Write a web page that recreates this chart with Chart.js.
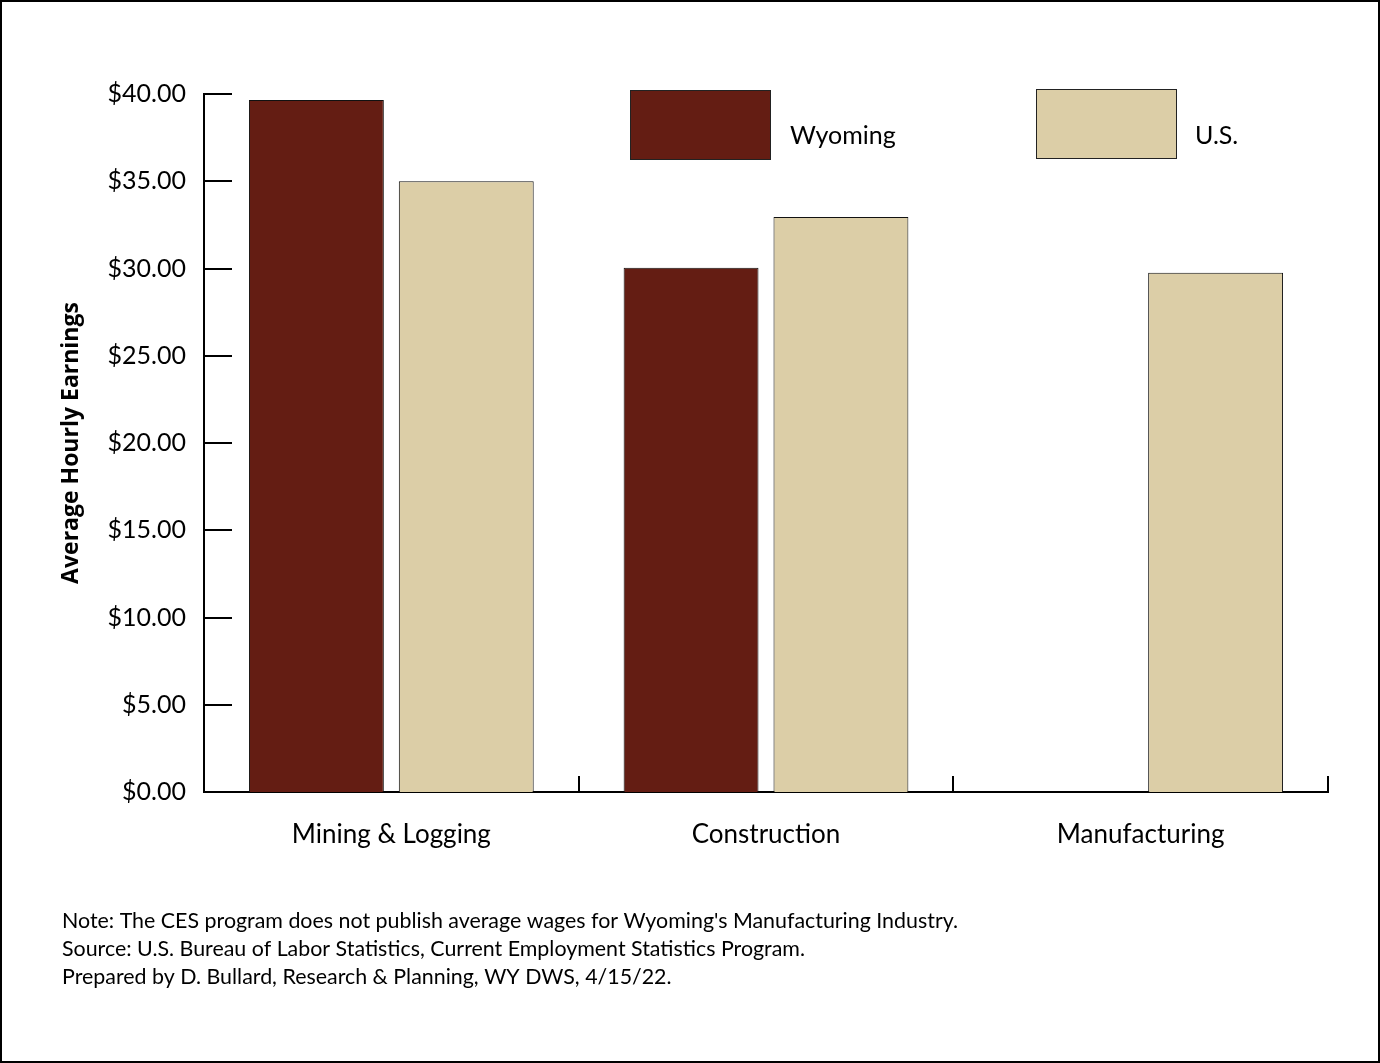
<!DOCTYPE html>
<html>
<head>
<meta charset="utf-8">
<script src="https://cdn.jsdelivr.net/npm/chart.js@4.4.1/dist/chart.umd.min.js"></script>
<style>
  html, body { margin: 0; padding: 0; background: #fff; }
  #wrap { width: 1380px; height: 1063px; position: relative; }
</style>
</head>
<body>
<div id="wrap"><canvas id="earningsChart"></canvas></div>
<script>
const categories = ['Mining & Logging', 'Construction', 'Manufacturing'];
const wyomingValues = [39.65, 30.05, null];
const usValues = [35.0, 32.95, 29.75];
const yTicks = [0, 5, 10, 15, 20, 25, 30, 35, 40];
const footnotes = [
    "Note: The CES program does not publish average wages for Wyoming's Manufacturing Industry.",
    'Source: U.S. Bureau of Labor Statistics, Current Employment Statistics Program.',
    'Prepared by D. Bullard, Research & Planning, WY DWS, 4/15/22.'
];

const FONT = 'Lato, "Open Sans", sans-serif';

// inward tick marks, page frame, legend boxes and footnotes
const extrasPlugin = {
    id: 'extras',
    afterDraw(chart) {
        const ctx = chart.ctx;
        const x = chart.scales.x;
        const y = chart.scales.y;
        ctx.save();
        ctx.strokeStyle = '#000';
        ctx.lineWidth = 2;

        // y ticks pointing into the plot
        yTicks.forEach(v => {
            const py = Math.round(y.getPixelForValue(v));
            ctx.beginPath();
            ctx.moveTo(x.left, py);
            ctx.lineTo(x.left + 28, py);
            ctx.stroke();
        });

        // x ticks at category boundaries, pointing up
        const n = categories.length;
        for (let i = 1; i <= n; i++) {
            const px = Math.round(x.left + i * x.width / n);
            ctx.beginPath();
            ctx.moveTo(px, y.bottom);
            ctx.lineTo(px, y.bottom - 16);
            ctx.stroke();
        }

        // legend
        const legendSpots = [{ bx: 630, by: 90, tx: 790 }, { bx: 1036, by: 89, tx: 1195 }];
        chart.data.datasets.forEach((ds, i) => {
            const s = legendSpots[i];
            ctx.fillStyle = ds.backgroundColor;
            ctx.fillRect(s.bx, s.by, 140, 69);
            ctx.lineWidth = 1;
            ctx.strokeStyle = '#222';
            ctx.strokeRect(s.bx + 0.5, s.by + 0.5, 140, 69);
            ctx.fillStyle = '#000';
            ctx.font = '25px ' + FONT;
            ctx.textBaseline = 'middle';
            ctx.fillText(ds.label, s.tx, 136);
        });

        // footnotes
        ctx.font = '21.4px ' + FONT;
        ctx.fillStyle = '#000';
        ctx.textBaseline = 'middle';
        footnotes.forEach((t, i) => ctx.fillText(t, 62, 921 + i * 28));

        // frame
        ctx.lineWidth = 2;
        ctx.strokeStyle = '#000';
        ctx.strokeRect(1, 1, chart.width - 2, chart.height - 2);
        ctx.restore();
    }
};

const ctx = document.getElementById('earningsChart').getContext('2d');
const earningsChart = new Chart(ctx, {
    type: 'bar',
    data: {
        labels: categories,
        datasets: [{
            label: 'Wyoming',
            data: wyomingValues,
            backgroundColor: '#641d13',
            borderColor: '#111',
            borderWidth: 1
        }, {
            label: 'U.S.',
            data: usValues,
            backgroundColor: '#dccea7',
            borderColor: '#111',
            borderWidth: 1
        }]
    },
    options: {
        responsive: true,
        maintainAspectRatio: false,
        animation: false,
        layout: {
            padding: { left: 0, top: 94, right: 52, bottom: 191 }
        },
        plugins: {
            legend: { display: false },
            tooltip: { enabled: false }
        },
        scales: {
            x: {
                grid: { display: false, drawTicks: false },
                border: { display: true, color: '#000', width: 2 },
                ticks: {
                    color: '#000',
                    padding: 27,
                    font: { family: FONT, size: 26 }
                },
                afterFit: s => { s.height = 80; }
            },
            y: {
                min: 0,
                max: 40,
                grid: { display: false, drawTicks: false },
                border: { display: true, color: '#000', width: 2 },
                afterBuildTicks: s => { s.ticks = yTicks.map(v => ({ value: v })); },
                ticks: {
                    color: '#000',
                    padding: 18,
                    font: { family: FONT, size: 25 },
                    callback: v => '$' + Number(v).toFixed(2)
                },
                title: {
                    display: true,
                    text: 'Average Hourly Earnings',
                    color: '#000',
                    padding: { top: 58, bottom: 0 },
                    font: { family: '"Open Sans", "Noto Sans", sans-serif', size: 23, weight: 'bold' }
                },
                afterFit: s => { s.width = 204; }
            }
        }
    },
    plugins: [extrasPlugin]
});
</script>
</body>
</html>
